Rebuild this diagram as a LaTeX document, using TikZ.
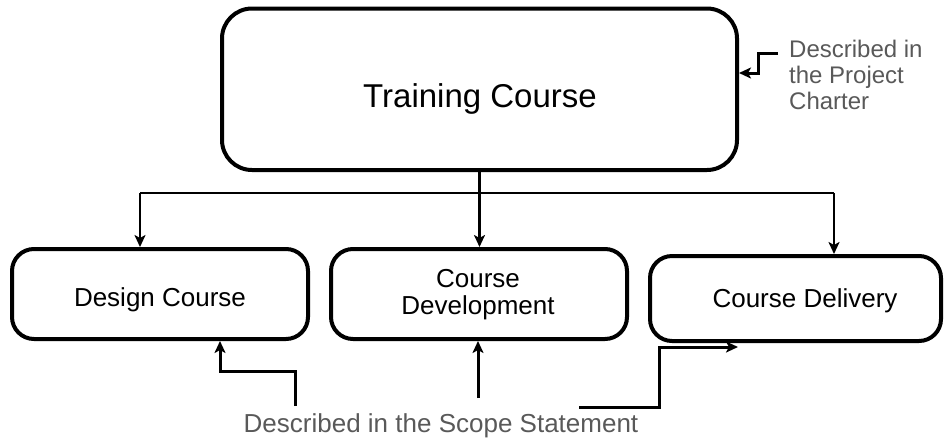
\documentclass[tikz,border=0pt]{standalone}
\usepackage{fontspec}
\setmainfont{Liberation Sans}
\usetikzlibrary{arrows.meta}
\definecolor{notegray}{HTML}{595959}
\begin{document}
\begin{tikzpicture}[x=1pt,y=-1pt,
  bigbox/.style={draw,line width=4pt,rounded corners=30pt,inner sep=0pt},
  taskbox/.style={draw,line width=4pt,rounded corners=22pt,inner sep=0pt},
  label/.style={inner sep=0pt,font=\fontsize{26}{30}\selectfont},
  note/.style={inner sep=0pt,text=notegray,font=\fontsize{24}{26}\selectfont},
  branch/.style={line width=2.8pt},
  tip/.style={-{Stealth[length=12pt,width=11pt,inset=3pt]}},
  feed/.style={line width=3pt,-{Stealth[length=12pt,width=11pt,inset=3pt]}}]
\useasboundingbox (0,0) rectangle (944,437);

% Work breakdown: root and the three deliverables
\node[bigbox,minimum width=515pt,minimum height=161.5pt] (tc) at (479.5,89.25) {};
\node[taskbox,minimum width=296pt,minimum height=90pt] (b1) at (160,294) {};
\node[taskbox,minimum width=296pt,minimum height=90pt] (b2) at (479,294) {};
\node[taskbox,minimum width=291pt,minimum height=85pt] (b3) at (795.5,298.5) {};

\node[label,font=\fontsize{33}{38}\selectfont,anchor=base] (t0) at (480,107) {Training Course};
\node[label,anchor=base] (t1) at (160,306) {Design Course};
\node[label,anchor=north,align=center,font=\fontsize{26}{27}\selectfont] (t2) at (478,269) {Course\\Development};
\node[label,anchor=base] (t3) at (805,307) {Course Delivery};

% Branching from the root to each deliverable
\coordinate (h1) at (140,193);
\coordinate (h3) at (834,193);
\draw[branch] (tc.south) -- (tc.south |- h1);
\draw[branch] (h1) -- (h3);
\draw[branch,tip] (h1) -- (h1 |- b1.north);
\draw[branch,tip] (tc.south |- h1) -- (tc.south |- b2.north);
\draw[branch,tip] (h3) -- (h3 |- b3.north);

% Annotation for the root
\node[note,anchor=north west,align=left] (pc) at (789,39.5) {Described in\\the Project\\Charter};
\coordinate (s4) at (778,53);
\coordinate (k4) at (758,73);
\draw[feed] (s4) -| (k4) -- (k4 -| tc.east);

% Annotation for the deliverables
\node[note,anchor=base,font=\fontsize{26}{30}\selectfont] (ss) at (441,432) {Described in the Scope Statement};
\coordinate (s1) at (295,406);
\coordinate (k1) at (220,371);
\draw[feed] (s1) |- (k1) -- (k1 |- b1.south);
\coordinate (s2) at (478,398);
\draw[feed] (s2) -- (s2 |- b2.south);
\coordinate (s3) at (579,407);
\coordinate (k3) at (659,347);
\coordinate (e3) at (738,347);
\draw[feed] (s3) -| (k3) -- (e3);
\end{tikzpicture}
\end{document}
